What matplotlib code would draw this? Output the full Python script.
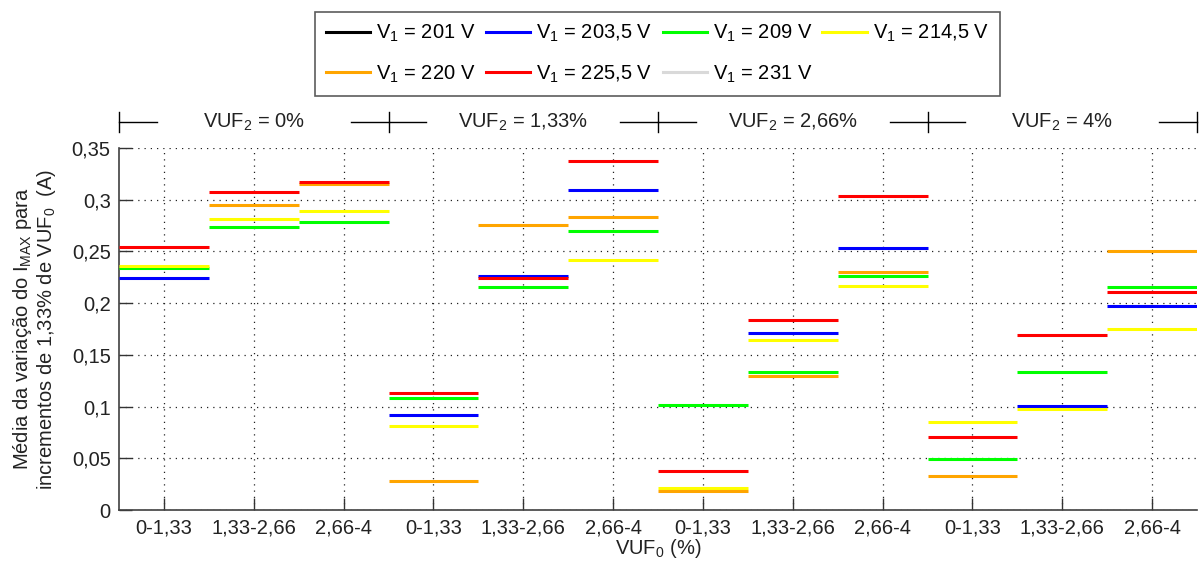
import numpy as np
import matplotlib
matplotlib.use("Agg")
import matplotlib.pyplot as plt
from matplotlib.lines import Line2D

plt.rcParams['font.family'] = ['Liberation Sans', 'DejaVu Sans']
plt.rcParams['mathtext.fontset'] = 'custom'
plt.rcParams['mathtext.rm'] = 'Liberation Sans'
plt.rcParams['mathtext.it'] = 'Liberation Sans'
plt.rcParams['mathtext.default'] = 'regular'

nan = np.nan
categories = ["0-1,33", "1,33-2,66", "2,66-4"] * 4
groups = ["VUF$_2$ = 0%", "VUF$_2$ = 1,33%", "VUF$_2$ = 2,66%", "VUF$_2$ = 4%"]
series_labels = ["V$_1$ = 201 V", "V$_1$ = 203,5 V", "V$_1$ = 209 V", "V$_1$ = 214,5 V",
                 "V$_1$ = 220 V", "V$_1$ = 225,5 V", "V$_1$ = 231 V"]
series_colors = ["#000000", "#0000ff", "#00ff00", "#ffff00", "#ffa500", "#ff0000", "#d9d9d9"]

v201 = [nan] * 12
v203_5 = [0.224, nan, nan, 0.0915, 0.226, 0.309, nan, 0.171, 0.253, nan, 0.101, 0.197]
v209 = [0.234, 0.274, 0.278, 0.108, 0.216, 0.270, 0.102, 0.133, 0.226, 0.0496, 0.133, 0.216]
v214_5 = [0.236, 0.281, 0.289, 0.081, nan, 0.242, 0.0213, 0.164, 0.217, 0.0854, 0.098, 0.175]
v220 = [nan, 0.295, 0.315, 0.0277, 0.276, 0.283, 0.0187, 0.130, 0.230, 0.0329, nan, 0.250]
v225_5 = [0.254, 0.307, 0.317, 0.113, 0.224, 0.337, 0.038, 0.184, 0.304, 0.0709, 0.169, 0.211]
v231 = [nan] * 12
series = [v201, v203_5, v209, v214_5, v220, v225_5, v231]

FS = 14.5
fig = plt.figure(figsize=(12.01, 5.64), dpi=100)
ax = fig.add_axes([0.0991, 0.0957, 0.8976, 0.6419])

x = np.arange(1, 13)
handles = []
for vals, col, lab in zip(series, series_colors, series_labels):
    v = np.array(vals, dtype=float)
    ax.hlines(v, x - 0.5, x + 0.5, colors=col, linewidth=2.2, zorder=3)
    handles.append(Line2D([0], [0], color=col, lw=2.2, label=lab))

ax.set_xlim(0.5, 12.5)
ax.set_ylim(0, 0.35)
ax.set_xticks(x)
ax.set_xticklabels(categories)
yt = np.arange(0, 0.351, 0.05)
ax.set_yticks(yt)
ax.set_yticklabels(["0", "0,05", "0,1", "0,15", "0,2", "0,25", "0,3", "0,35"])
ax.tick_params(direction='in', length=9, width=1, labelsize=FS, colors='#333333',
               labelcolor='#222222', pad=6)
ax.grid(True, color='#222222', linestyle=(0, (1, 4)), linewidth=0.9)
for s in ['top', 'right']:
    ax.spines[s].set_visible(False)
for s in ['left', 'bottom']:
    ax.spines[s].set_color('#404040')
    ax.spines[s].set_linewidth(1.2)

ax.set_xlabel("VUF$_0$ (%)", fontsize=FS, color='#222222', labelpad=0)
ax.set_ylabel("Média da variação do I$_{MAX}$ para\nincrementos de 1,33% de VUF$_0$  (A)",
              fontsize=FS, color='#222222', linespacing=1.05)
ax.yaxis.set_label_coords(-0.057, 0.5)

# group header above axes
trans = ax.get_xaxis_transform()
yh = 1.072
for g, name in enumerate(groups):
    xl = 0.5 + 3 * g
    xr = 3.5 + 3 * g
    ax.plot([xl, xl + 0.42], [yh, yh], color='black', lw=1, transform=trans, clip_on=False)
    ax.plot([xr - 0.42, xr], [yh, yh], color='black', lw=1, transform=trans, clip_on=False)
    ax.text(xl + 1.5, yh, name, transform=trans, ha='center', va='center', fontsize=FS,
            color='#222222')
for b in [0.5, 3.5, 6.5, 9.5, 12.5]:
    ax.plot([b, b], [1.044, 1.099], color='black', lw=1, transform=trans, clip_on=False)

order = [0, 4, 1, 5, 2, 6, 3]
leg = fig.legend([handles[i] for i in order], [series_labels[i] for i in order],
                 loc='upper center', bbox_to_anchor=(0.5475, 0.997), ncol=4, fontsize=FS,
                 frameon=True, fancybox=False, edgecolor='#333333', handlelength=2.2,
                 columnspacing=0.5, handletextpad=0.3, borderpad=0.55, labelspacing=0.95)
leg.get_frame().set_linewidth(1.2)

fig.savefig("out.png", dpi=100)
